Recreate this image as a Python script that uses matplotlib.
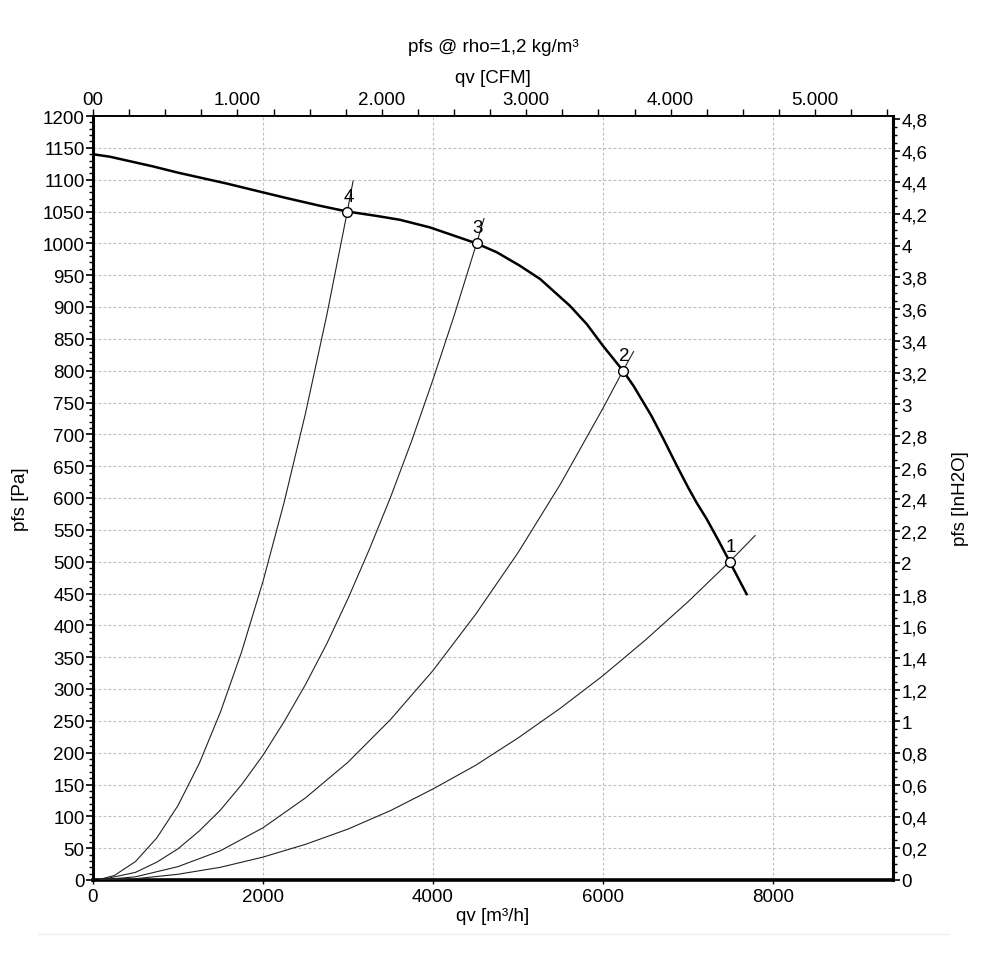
import matplotlib
matplotlib.use("Agg")
import matplotlib.pyplot as plt
from matplotlib.ticker import MultipleLocator, FixedLocator, FuncFormatter
from matplotlib.lines import Line2D

plt.rcParams['font.family'] = ['Liberation Sans', 'DejaVu Sans']
FS = 13.5

# fan curve, pfs [Pa] over qv [m3/h]
fan_q = [0, 200, 400, 700, 1000, 1570, 1970, 2280, 2670, 2990, 3340, 3610, 3965,
         4510, 4750, 5020, 5260, 5610, 5810, 6000, 6235, 6360, 6570, 6710, 6860,
         7000, 7100, 7220, 7360, 7490, 7690]
fan_p = [1140, 1136, 1130, 1121, 1111, 1094, 1081, 1071, 1059, 1050, 1043, 1037, 1025,
         1000, 986, 965, 944, 902, 873, 839, 800, 776, 729, 693, 653,
         617, 593, 567, 533, 500, 449]

# system curves
sys1_q = [80, 500, 1000, 1500, 2000, 2500, 3000, 3500, 4000, 4500, 5000, 5500,
          6000, 6500, 7000, 7490, 7790]
sys1_p = [0, 2, 9, 20, 36, 56, 80, 109, 143, 180, 223, 270, 321, 377, 437, 500, 541]
sys2_q = [80, 500, 1000, 1500, 2000, 2500, 3000, 3500, 4000, 4500, 5000, 5500,
          6000, 6235, 6360]
sys2_p = [0, 5, 21, 46, 82, 129, 185, 252, 329, 417, 514, 622, 741, 800, 830]
sys3_q = [80, 500, 750, 1000, 1250, 1500, 1750, 2000, 2250, 2500, 2750, 3000,
          3250, 3500, 3750, 4000, 4250, 4513, 4600]
sys3_p = [0, 12, 28, 49, 77, 110, 150, 196, 249, 307, 371, 442, 519, 601, 690,
          786, 887, 1000, 1039]
sys4_q = [80, 250, 500, 750, 1000, 1250, 1500, 1750, 2000, 2250, 2500, 2750, 2992, 3060]
sys4_p = [1, 7, 29, 66, 117, 183, 264, 359, 469, 594, 733, 887, 1050, 1098]

# operating points
op_q = [7490, 6235, 4513, 2992]
op_p = [500, 800, 1000, 1050]
op_labels = ['1', '2', '3', '4']

cfm_ticks = [0, 1000, 2000, 3000, 4000, 5000]
cfm_labels = ['00', '1.000', '2.000', '3.000', '4.000', '5.000']

M3H_TO_CFM = 0.588578
PA_PER_INH2O = 249.089

fig = plt.figure(figsize=(9.85, 9.79), dpi=100)
ax = fig.add_axes([93 / 985, 1 - 881 / 979, 800 / 985, 764 / 979])

for q, p in [(sys1_q, sys1_p), (sys2_q, sys2_p), (sys3_q, sys3_p), (sys4_q, sys4_p)]:
    ax.plot(q, p, color='#222222', lw=0.8, zorder=3)
ax.plot(fan_q, fan_p, color='black', lw=1.8, zorder=4, solid_joinstyle='round')
ax.plot(op_q, op_p, 'o', ms=7, mfc='white', mec='black', mew=1.0, zorder=5)
for q, p, lab in zip(op_q, op_p, op_labels):
    ax.annotate(lab, (q, p), xytext=(1, 5), textcoords='offset points',
                ha='center', va='bottom', fontsize=FS, zorder=6)

ax.set_xlim(0, 9412)
ax.set_ylim(0, 1200)
ax.xaxis.set_major_locator(MultipleLocator(2000))
ax.yaxis.set_major_locator(MultipleLocator(50))
ax.yaxis.set_minor_locator(MultipleLocator(10))
ax.grid(True, which='major', color='#bdbdbd', ls=(0, (2.5, 2)), lw=0.8)
ax.set_axisbelow(True)
ax.tick_params(axis='x', which='major', direction='out', length=3, width=1,
               labelsize=FS, pad=3)
ax.tick_params(axis='y', which='major', direction='out', length=5, width=1.2,
               labelsize=FS, pad=1)
ax.tick_params(axis='y', which='minor', direction='out', length=3, width=1)

ax.spines['left'].set_linewidth(2.2)
ax.spines['bottom'].set_linewidth(2.6)
ax.spines['right'].set_linewidth(2.2)
ax.spines['top'].set_linewidth(1.3)

ax.set_xlabel('qv [m³/h]', fontsize=FS, labelpad=1)
ax.set_ylabel('pfs [Pa]', fontsize=FS, labelpad=10)

# top axis in CFM
top = ax.secondary_xaxis('top', functions=(lambda q: q * M3H_TO_CFM,
                                           lambda c: c / M3H_TO_CFM))
top.xaxis.set_major_locator(FixedLocator(cfm_ticks))
top.xaxis.set_major_formatter(FuncFormatter(
    lambda v, pos: cfm_labels[cfm_ticks.index(int(round(v)))] if int(round(v)) in cfm_ticks else ''))
top.xaxis.set_minor_locator(MultipleLocator(250))
top.tick_params(which='both', direction='out', length=5, width=1, labelsize=FS, pad=1)
top.spines['top'].set_linewidth(1.3)
top.set_xlabel('qv [CFM]', fontsize=FS, labelpad=6)

# right axis in inH2O
right = ax.secondary_yaxis('right', functions=(lambda p: p / PA_PER_INH2O,
                                               lambda h: h * PA_PER_INH2O))
right.yaxis.set_major_locator(MultipleLocator(0.2))
right.yaxis.set_minor_locator(MultipleLocator(0.05))
right.yaxis.set_major_formatter(FuncFormatter(
    lambda v, pos: ('%g' % round(v, 1)).replace('.', ',')))
right.tick_params(which='major', direction='out', length=5, width=1.2, labelsize=FS, pad=1)
right.tick_params(which='minor', direction='out', length=3, width=1)
right.spines['right'].set_linewidth(2.2)
right.set_ylabel('pfs [InH2O]', fontsize=FS, labelpad=18)

fig.text(493 / 985, 1 - 48 / 979, 'pfs @ rho=1,2 kg/m³', ha='center', va='center', fontsize=FS)

fig.add_artist(Line2D([38 / 985, 948 / 985], [1 - 935 / 979, 1 - 935 / 979],
                      color='#eeeeee', lw=1))

fig.savefig('out.png', dpi=100, facecolor='white')
